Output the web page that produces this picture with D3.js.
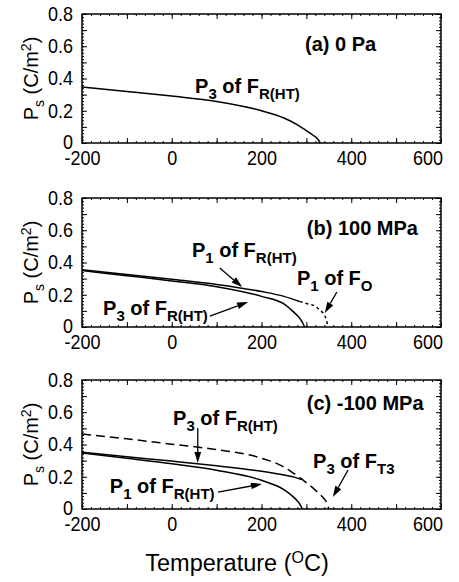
<!DOCTYPE html>
<html>
<head>
<meta charset="utf-8">
<script src="https://cdn.jsdelivr.net/npm/d3@7"></script>
<style>
  body { margin: 0; background: #fff; }
  svg { display: block; font-family: "Liberation Sans", Arial, Helvetica, sans-serif; }
</style>
</head>
<body>
<svg id="chart" width="459" height="582"></svg>
<script>
// tick labels
let xTicks = [-200, 0, 200, 400, 600];
let yTicks = [0, 0.2, 0.4, 0.6, 0.8];

// (a) 0 Pa : P3 of F_R(HT)
let tA3 = [-200, -100, 0, 100, 200, 250, 280, 300, 315, 325, 331];
let pA3 = [0.348, 0.320, 0.291, 0.257, 0.200, 0.155, 0.113, 0.077, 0.048, 0.025, 0];

// (b) 100 MPa : P1 of F_R(HT) (solid), P1 of F_O (dashed), P3 of F_R(HT)
let tB1 = [-200, -100, 0, 100, 200, 250, 285];
let pB1 = [0.355, 0.326, 0.296, 0.264, 0.220, 0.190, 0.158];
let tBO = [285, 300, 322, 329, 340, 345, 348];
let pBO = [0.158, 0.146, 0.126, 0.106, 0.075, 0.040, 0];
let tB3 = [-200, -100, 0, 100, 200, 250, 270, 285, 292, 296];
let pB3 = [0.350, 0.318, 0.286, 0.250, 0.190, 0.143, 0.097, 0.055, 0.025, 0];

// (c) -100 MPa : P3 of F_T3 (dashed), P3 of F_R(HT), P1 of F_R(HT)
let tCT = [-200, -100, 0, 100, 200, 245, 270, 290, 305, 318, 330, 340, 346, 350];
let pCT = [0.465, 0.435, 0.402, 0.368, 0.315, 0.268, 0.224, 0.185, 0.152, 0.122, 0.092, 0.062, 0.036, 0];
let tC3 = [-200, -100, 0, 100, 200, 250, 275, 290];
let pC3 = [0.352, 0.324, 0.297, 0.268, 0.234, 0.211, 0.196, 0.182];
let tC1 = [-200, -100, 0, 100, 200, 250, 272, 284, 291];
let pC1 = [0.347, 0.314, 0.280, 0.240, 0.178, 0.120, 0.072, 0.036, 0];

let svg = d3.select("#chart");
let margin = {left: 82, right: 18};
let width = 459 - margin.left - margin.right;
let height = 129;
let x = d3.scaleLinear().domain([-200, 600]).range([0, width]);
let y = d3.scaleLinear().domain([0, 0.8]).range([height, 0]);
let line = d3.line()
  .x(function(d) { return x(d[0]); })
  .y(function(d) { return y(d[1]); })
  .curve(d3.curveMonotoneX);

function zip(a, b) { return a.map(function(v, i) { return [v, b[i]]; }); }

// text with sub/superscripts; parts = [[text, "sub"|"sup"|null], ...]
function rich(g, parts, size, smallSize, weight) {
  let t = g.append("text").attr("font-size", size).attr("font-weight", weight || "normal");
  let shift = 0;
  parts.forEach(function(p) {
    let s = t.append("tspan").text(p[0]);
    let target = p[1] == "sub" ? size * 0.3 : p[1] == "sup" ? -size * 0.35 : 0;
    if (target != shift) s.attr("dy", target - shift);
    shift = target;
    if (p[1]) s.attr("font-size", smallSize);
  });
  return t;
}

function label(g, parts, T, P) {
  rich(g, parts, 20, 15, "bold").attr("x", x(T)).attr("y", y(P));
}

function arrow(g, T0, P0, T1, P1) {
  let x0 = x(T0), y0 = y(P0), x1 = x(T1), y1 = y(P1);
  let a = Math.atan2(y1 - y0, x1 - x0);
  let len = 11, w = 3.4;
  let bx = x1 - len * Math.cos(a), by = y1 - len * Math.sin(a);
  g.append("line").attr("x1", x0).attr("y1", y0).attr("x2", bx).attr("y2", by)
    .attr("stroke", "#000").attr("stroke-width", 1.3);
  g.append("path")
    .attr("d", "M" + x1 + "," + y1 +
      "L" + (bx + w * Math.sin(a)) + "," + (by - w * Math.cos(a)) +
      "L" + (bx - w * Math.sin(a)) + "," + (by + w * Math.cos(a)) + "Z")
    .attr("fill", "#000");
}

function panel(top) {
  let g = svg.append("g").attr("transform", "translate(" + margin.left + "," + top + ")");
  let minorX = d3.range(-200, 601, 20), majorX = d3.range(-200, 601, 100);
  let minorY = d3.range(0, 0.801, 0.02), majorY = d3.range(0, 0.801, 0.1);
  let axes = [
    [function() { return d3.axisBottom(x); }, "translate(0," + height + ")", minorX, majorX],
    [function() { return d3.axisTop(x); }, null, minorX, majorX],
    [function() { return d3.axisLeft(y); }, null, minorY, majorY],
    [function() { return d3.axisRight(y); }, "translate(" + width + ",0)", minorY, majorY]
  ];
  axes.forEach(function(a) {
    [[a[2], -2], [a[3], -5]].forEach(function(s) {
      let ax = g.append("g").call(a[0]().tickValues(s[0]).tickSize(s[1]).tickFormat(""));
      if (a[1]) ax.attr("transform", a[1]);
      ax.select(".domain").remove();
      ax.selectAll("line").attr("stroke-width", 1);
    });
  });
  g.append("rect").attr("width", width).attr("height", height)
    .attr("fill", "none").attr("stroke", "#000").attr("stroke-width", 1.5);

  let xl = g.append("g").attr("transform", "translate(0," + height + ")")
    .call(d3.axisBottom(x).tickValues(xTicks).tickSize(0).tickPadding(7).tickFormat(function(d) { return String(d); }));
  let yl = g.append("g")
    .call(d3.axisLeft(y).tickValues(yTicks).tickSize(0).tickPadding(10).tickFormat(function(d) { return d == 0 ? "0" : d3.format(".1f")(d); }));
  [xl, yl].forEach(function(a) {
    a.select(".domain").remove();
    a.selectAll("text").attr("font-size", 20).attr("font-family", null).attr("fill", "#000")
      .attr("transform", "scale(0.9,1)");
  });
  xl.selectAll("text").attr("dy", "0.75em");
  // the last label sits pulled in from the frame edge, as in the original
  xl.selectAll("text").filter(function(d) { return d == 600; }).attr("x", -15);
  yl.selectAll("text").filter(function(d) { return d == 0; }).attr("dy", "0.25em");

  rich(svg.append("g"), [["P", null], ["s", "sub"], [" (C/m", null], ["2", "sup"], [")", null]], 20, 14)
    .attr("text-anchor", "middle")
    .attr("transform", "translate(38," + (top + height / 2) + ") rotate(-90)");
  return g;
}

function curve(g, t, p, dash) {
  g.append("path").attr("d", line(zip(t, p)))
    .attr("fill", "none").attr("stroke", "#000").attr("stroke-width", 1.5)
    .attr("stroke-dasharray", dash || null);
}

// (a)
let ga = panel(14);
curve(ga, tA3, pA3);
label(ga, [["(a) 0 Pa", null]], 297, 0.57);
label(ga, [["P", null], ["3", "sub"], [" of F", null], ["R(HT)", "sub"]], 52, 0.31);

// (b)
let gb = panel(198);
curve(gb, tB1, pB1);
curve(gb, tBO, pBO, "3,3");
curve(gb, tB3, pB3);
label(gb, [["(b) 100 MPa", null]], 301, 0.571);
label(gb, [["P", null], ["1", "sub"], [" of F", null], ["R(HT)", "sub"]], 45, 0.434);
arrow(gb, 107, 0.366, 157, 0.248);
label(gb, [["P", null], ["3", "sub"], [" of F", null], ["R(HT)", "sub"]], -153, 0.074);
arrow(gb, 85, 0.068, 170, 0.155);
label(gb, [["P", null], ["1", "sub"], [" of F", null], ["O", "sub"]], 279, 0.26);
arrow(gb, 368, 0.217, 341, 0.087);

// (c)
let gc = panel(380);
curve(gc, tCT, pCT, "9,5");
curve(gc, tC3, pC3);
curve(gc, tC1, pC1);
label(gc, [["(c) -100 MPa", null]], 301, 0.614);
label(gc, [["P", null], ["3", "sub"], [" of F", null], ["R(HT)", "sub"]], 3, 0.521);
arrow(gc, 58, 0.502, 58, 0.285);
label(gc, [["P", null], ["1", "sub"], [" of F", null], ["R(HT)", "sub"]], -138, 0.099);
arrow(gc, 103, 0.105, 201, 0.155);
label(gc, [["P", null], ["3", "sub"], [" of F", null], ["T3", "sub"]], 315, 0.254);
arrow(gc, 393, 0.242, 359, 0.074);

// x title
rich(svg.append("g"), [["Temperature (", null], ["O", "sup"], ["C)", null]], 23.5, 16)
  .attr("text-anchor", "middle")
  .attr("x", 237)
  .attr("y", 571);
</script>
</body>
</html>
